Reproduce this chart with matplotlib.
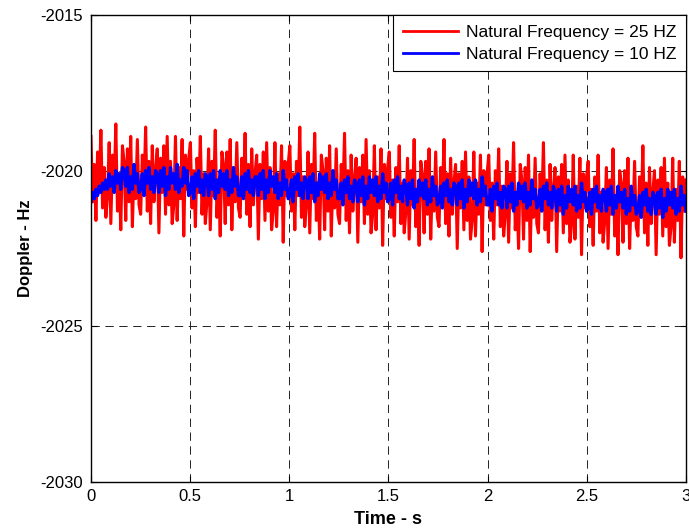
import numpy as np
import matplotlib.pyplot as plt
from matplotlib.ticker import FormatStrFormatter

plt.rcParams['font.family'] = ['Liberation Sans', 'DejaVu Sans']
plt.rcParams['axes.unicode_minus'] = False
plt.rcParams['lines.scale_dashes'] = False

# doppler estimate, natural frequency 25 Hz
doppler_25 = [
    -2018.9, -2021.0, -2019.8, -2021.6, -2019.4, -2020.5, -2018.7, -2021.2, -2019.9, -2021.5,
    -2020.8, -2019.1, -2021.7, -2019.5, -2020.6, -2018.5, -2021.3, -2020.1, -2021.9, -2019.2,
    -2019.7, -2021.6, -2019.3, -2021.0, -2018.9, -2021.8, -2019.9, -2020.9, -2019.0, -2021.1,
    -2021.4, -2019.5, -2020.6, -2018.6, -2021.3, -2019.7, -2021.7, -2019.2, -2021.0, -2020.0,
    -2019.3, -2022.0, -2019.6, -2020.7, -2019.2, -2021.4, -2018.9, -2021.1, -2019.7, -2021.7,
    -2021.1, -2018.9, -2021.6, -2019.9, -2020.9, -2019.0, -2022.1, -2019.5, -2020.6, -2019.6,
    -2019.1, -2021.2, -2020.0, -2021.8, -2019.6, -2020.7, -2018.9, -2021.4, -2020.1, -2021.7,
    -2021.0, -2019.3, -2021.9, -2019.7, -2020.8, -2018.7, -2021.5, -2020.3, -2022.1, -2019.4,
    -2019.8, -2021.7, -2019.4, -2021.1, -2019.0, -2021.9, -2020.0, -2021.0, -2019.1, -2021.2,
    -2021.5, -2019.6, -2020.7, -2018.8, -2021.4, -2019.8, -2021.8, -2019.3, -2021.1, -2020.1,
    -2019.5, -2022.2, -2019.8, -2020.9, -2019.4, -2021.6, -2019.1, -2021.3, -2019.9, -2021.9,
    -2021.3, -2019.1, -2021.8, -2020.1, -2021.1, -2019.2, -2022.3, -2019.7, -2020.8, -2019.8,
    -2019.2, -2021.3, -2020.1, -2021.9, -2019.7, -2020.8, -2018.6, -2021.5, -2020.2, -2021.8,
    -2021.1, -2019.4, -2022.0, -2019.8, -2020.9, -2018.8, -2021.6, -2020.4, -2022.2, -2019.5,
    -2020.0, -2021.9, -2019.6, -2021.3, -2019.2, -2022.1, -2020.2, -2021.2, -2019.3, -2021.4,
    -2021.7, -2019.8, -2020.9, -2018.8, -2021.6, -2020.0, -2022.0, -2019.5, -2021.3, -2020.3,
    -2019.6, -2022.3, -2019.9, -2021.0, -2019.5, -2021.7, -2019.0, -2021.4, -2020.0, -2022.0,
    -2021.4, -2019.2, -2021.9, -2020.2, -2021.2, -2019.3, -2022.4, -2019.8, -2020.9, -2019.9,
    -2019.4, -2021.5, -2020.3, -2022.1, -2019.9, -2021.0, -2019.2, -2021.7, -2020.4, -2022.0,
    -2021.3, -2019.6, -2022.2, -2020.0, -2021.1, -2019.0, -2021.8, -2020.6, -2022.4, -2019.7,
    -2020.1, -2022.0, -2019.7, -2021.4, -2019.3, -2022.2, -2020.3, -2021.3, -2019.4, -2021.5,
    -2021.8, -2019.9, -2021.0, -2019.0, -2021.7, -2020.1, -2022.1, -2019.6, -2021.4, -2020.4,
    -2019.8, -2022.5, -2020.1, -2021.2, -2019.7, -2021.9, -2019.4, -2021.6, -2020.2, -2022.2,
    -2021.6, -2019.4, -2022.1, -2020.4, -2021.4, -2019.5, -2022.6, -2020.0, -2021.1, -2020.1,
    -2019.5, -2021.6, -2020.4, -2022.2, -2020.0, -2021.1, -2019.3, -2021.8, -2020.5, -2022.1,
    -2021.4, -2019.7, -2022.3, -2020.1, -2021.2, -2019.1, -2021.9, -2020.7, -2022.5, -2019.8,
    -2020.3, -2022.2, -2019.9, -2021.6, -2019.5, -2022.6, -2020.5, -2021.5, -2019.6, -2021.7,
    -2022.0, -2020.1, -2021.2, -2019.1, -2021.9, -2020.3, -2022.3, -2019.8, -2021.6, -2020.6,
    -2019.9, -2022.6, -2020.2, -2021.3, -2019.8, -2022.0, -2019.5, -2021.7, -2020.3, -2022.3,
    -2021.7, -2019.5, -2022.2, -2020.5, -2021.5, -2019.6, -2022.7, -2020.1, -2021.2, -2020.2,
    -2019.7, -2021.8, -2020.6, -2022.4, -2020.2, -2021.3, -2019.5, -2022.0, -2020.7, -2022.3,
    -2021.6, -2019.9, -2022.5, -2020.3, -2021.4, -2019.3, -2022.1, -2020.9, -2022.7, -2020.0,
    -2020.4, -2022.3, -2020.0, -2021.7, -2019.6, -2022.5, -2020.6, -2021.6, -2019.7, -2021.8,
    -2022.1, -2020.2, -2021.3, -2019.2, -2022.0, -2020.4, -2022.4, -2019.9, -2021.7, -2020.7,
    -2020.0, -2022.7, -2020.3, -2021.4, -2019.9, -2022.1, -2019.6, -2021.8, -2020.4, -2022.4,
    -2021.8, -2019.6, -2022.3, -2020.6, -2021.6, -2019.7, -2022.8, -2020.2, -2021.3, -2020.3,
]

# doppler estimate, natural frequency 10 Hz
doppler_10 = [
    -2021.0, -2020.7, -2020.9, -2020.6, -2020.8, -2020.5, -2020.7, -2020.4, -2020.6, -2020.3,
    -2020.6, -2020.1, -2020.5, -2020.2, -2020.7, -2020.0, -2020.4, -2020.1, -2020.6, -2019.9,
    -2020.0, -2020.5, -2019.9, -2020.7, -2020.2, -2020.6, -2019.8, -2020.4, -2020.1, -2020.7,
    -2020.6, -2020.1, -2020.8, -2020.0, -2020.4, -2019.9, -2020.6, -2020.2, -2020.7, -2020.0,
    -2020.1, -2020.7, -2020.0, -2020.5, -2019.9, -2020.8, -2020.2, -2020.6, -2019.9, -2020.4,
    -2020.1, -2020.6, -2019.8, -2020.7, -2020.3, -2020.5, -2019.9, -2020.4, -2020.0, -2020.8,
    -2020.7, -2020.2, -2020.9, -2020.1, -2020.5, -2020.0, -2020.7, -2020.3, -2020.8, -2020.1,
    -2020.2, -2020.8, -2020.1, -2020.6, -2020.0, -2020.9, -2020.3, -2020.7, -2020.0, -2020.5,
    -2020.1, -2020.6, -2020.0, -2020.8, -2020.3, -2020.7, -2019.9, -2020.5, -2020.2, -2020.8,
    -2020.8, -2020.2, -2020.9, -2020.1, -2020.6, -2020.0, -2020.7, -2020.3, -2020.8, -2020.2,
    -2020.2, -2020.8, -2020.1, -2020.6, -2020.0, -2020.9, -2020.3, -2020.7, -2020.0, -2020.5,
    -2020.2, -2020.7, -2020.1, -2020.9, -2020.4, -2020.8, -2020.0, -2020.6, -2020.3, -2020.9,
    -2020.8, -2020.3, -2021.0, -2020.2, -2020.6, -2020.1, -2020.8, -2020.4, -2020.9, -2020.2,
    -2020.3, -2020.9, -2020.2, -2020.7, -2020.1, -2021.0, -2020.4, -2020.8, -2020.1, -2020.6,
    -2020.2, -2020.7, -2020.1, -2020.9, -2020.4, -2020.8, -2020.0, -2020.6, -2020.3, -2020.9,
    -2020.9, -2020.4, -2021.1, -2020.3, -2020.7, -2020.2, -2020.9, -2020.5, -2021.0, -2020.3,
    -2020.4, -2021.0, -2020.3, -2020.8, -2020.2, -2021.1, -2020.5, -2020.9, -2020.2, -2020.7,
    -2020.3, -2020.8, -2020.2, -2021.0, -2020.5, -2020.9, -2020.1, -2020.7, -2020.4, -2021.0,
    -2020.9, -2020.4, -2021.1, -2020.3, -2020.7, -2020.2, -2020.9, -2020.5, -2021.0, -2020.3,
    -2020.5, -2021.1, -2020.4, -2020.9, -2020.3, -2021.2, -2020.6, -2021.0, -2020.3, -2020.8,
    -2020.4, -2020.9, -2020.3, -2021.1, -2020.6, -2021.0, -2020.2, -2020.8, -2020.5, -2021.1,
    -2021.0, -2020.5, -2021.2, -2020.4, -2020.8, -2020.3, -2021.0, -2020.6, -2021.1, -2020.4,
    -2020.5, -2021.1, -2020.4, -2020.9, -2020.3, -2021.2, -2020.6, -2021.0, -2020.3, -2020.8,
    -2020.4, -2020.9, -2020.3, -2021.1, -2020.6, -2021.0, -2020.2, -2020.8, -2020.5, -2021.1,
    -2021.1, -2020.6, -2021.3, -2020.5, -2020.9, -2020.4, -2021.1, -2020.7, -2021.2, -2020.5,
    -2020.6, -2021.2, -2020.5, -2021.0, -2020.4, -2021.3, -2020.7, -2021.1, -2020.4, -2020.9,
    -2020.5, -2021.0, -2020.4, -2021.2, -2020.7, -2021.1, -2020.3, -2020.9, -2020.6, -2021.2,
    -2021.1, -2020.6, -2021.3, -2020.5, -2020.9, -2020.4, -2021.1, -2020.7, -2021.2, -2020.5,
    -2020.7, -2021.3, -2020.6, -2021.1, -2020.5, -2021.4, -2020.8, -2021.2, -2020.5, -2021.0,
    -2020.6, -2021.1, -2020.5, -2021.3, -2020.8, -2021.2, -2020.4, -2021.0, -2020.7, -2021.3,
    -2021.2, -2020.7, -2021.4, -2020.6, -2021.0, -2020.5, -2021.2, -2020.8, -2021.3, -2020.6,
    -2020.7, -2021.3, -2020.6, -2021.1, -2020.5, -2021.4, -2020.8, -2021.2, -2020.5, -2021.0,
    -2020.7, -2021.2, -2020.6, -2021.4, -2020.9, -2021.3, -2020.5, -2021.1, -2020.8, -2021.4,
    -2021.3, -2020.8, -2021.5, -2020.7, -2021.1, -2020.6, -2021.3, -2020.9, -2021.4, -2020.7,
    -2020.8, -2021.4, -2020.7, -2021.2, -2020.6, -2021.5, -2020.9, -2021.3, -2020.6, -2021.1,
    -2020.7, -2021.2, -2020.6, -2021.4, -2020.9, -2021.3, -2020.5, -2021.1, -2020.8, -2021.3,
]

t_end = 3.0
t_25 = np.linspace(0, t_end, len(doppler_25))
t_10 = np.linspace(0, t_end, len(doppler_10))

fig = plt.figure(figsize=(6.89, 5.31), dpi=100)
ax = fig.add_axes([0.132, 0.0923, 0.8636, 0.8795])

ax.plot(t_25, doppler_25, "r-", linewidth=2.2, label="Natural Frequency = 25 HZ")
ax.plot(t_10, doppler_10, "b-", linewidth=2.4, label="Natural Frequency = 10 HZ")

ax.set_xlim(0, 3)
ax.set_ylim(-2030, -2015)
ax.set_xticks(np.arange(0, 3.01, 0.5))
ax.set_yticks([-2030, -2025, -2020, -2015])
ax.xaxis.set_major_formatter(FormatStrFormatter('%g'))
ax.tick_params(direction='in', top=True, right=True, labelsize=12, length=4.5, width=0.8)
ax.tick_params(axis='y', pad=6)
ax.tick_params(axis='x', pad=5)
ax.grid(True, color='#222222', linestyle=(0, (6, 4)), linewidth=0.7)
ax.set_axisbelow(True)
for sp in ax.spines.values():
    sp.set_linewidth(1.0)

ax.set_xlabel("Time - s", fontsize=13, fontweight='bold', labelpad=5)
ax.set_ylabel("Doppler - Hz", fontsize=12, fontweight='bold', labelpad=5)

leg = ax.legend(loc='upper right', prop={'size': 12.5}, fancybox=False, framealpha=1,
                edgecolor='black', borderaxespad=0, handlelength=3.2,
                handletextpad=0.45, labelspacing=0.4, borderpad=0.55)
leg.get_frame().set_linewidth(0.8)
for line in leg.get_lines():
    line.set_linewidth(2.0)

plt.savefig("out.png", dpi=100)
